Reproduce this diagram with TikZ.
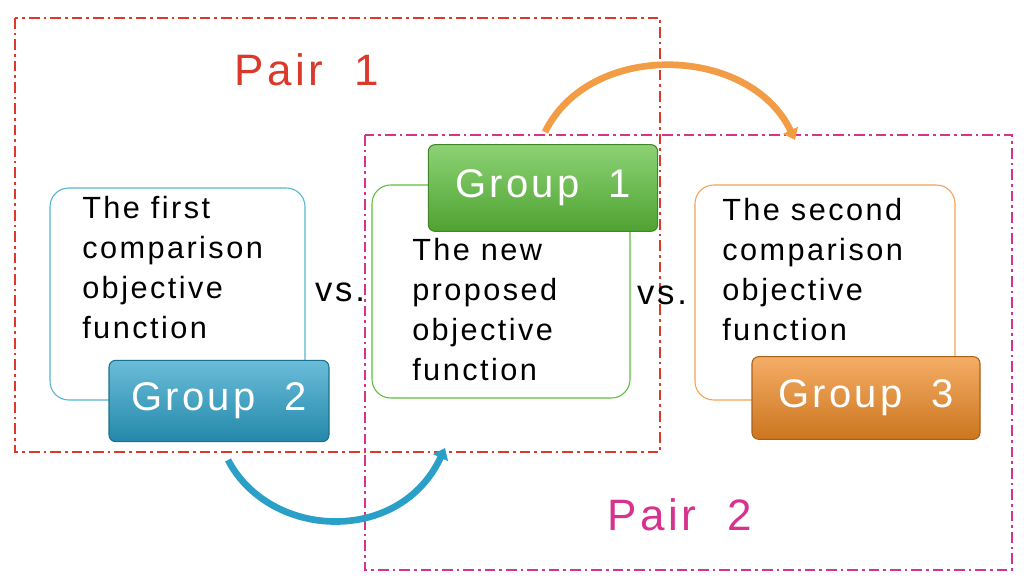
\documentclass[tikz,border=0pt]{standalone}
\usepackage{fontspec}
\setmainfont{Liberation Sans}[LetterSpace=8]
\usetikzlibrary{arrows.meta}
\definecolor{pr}{HTML}{D93A2B}
\definecolor{pm}{HTML}{D6338F}
\definecolor{gb}{HTML}{2AA0C8}
\definecolor{gg}{HTML}{5CBF3A}
\definecolor{go}{HTML}{F08A24}
\begin{document}
\begin{tikzpicture}[x=0.75pt,y=-0.75pt,
 pair/.style={line width=2.2pt,dash pattern=on 8pt off 3pt on 2pt off 3pt},
 obox/.style={rounded corners=14pt,line width=0.8pt},
 txt/.style={anchor=north west,align=left,font=\fontsize{23}{30}\selectfont,inner sep=0pt},
 grp/.style={rounded corners=5pt,draw=#1!70!black,line width=0.8pt,text=white,font=\fontsize{30}{32}\selectfont,inner sep=0pt},
 vs/.style={font=\fontsize{26}{28}\selectfont}]
\useasboundingbox (0,0) rectangle (1024,585);
\draw[pair,pr] (15,18) rectangle (660,452);
\node[pr,font=\fontsize{33}{36}\selectfont] (p1) at (307,70) {Pair\ \ 1};
\draw[obox,gb!80] (50,188) rectangle (305,400);
\node[txt] (t1) at (82,196) {The first\\comparison\\objective\\function};
\draw[obox,gg] (372,185) rectangle (630,398);
\node[txt] (t2) at (412,238) {The new\\proposed\\objective\\function};
\draw[obox,go!80] (695,185) rectangle (955,400);
\node[txt] (t3) at (722,198) {The second\\comparison\\objective\\function};
\draw[pair,pm] (365,135) rectangle (1012,570);
\node[pm,font=\fontsize{33}{36}\selectfont] (p2) at (680,515) {Pair\ \ 2};
\node[grp=gb,top color=gb!70!white,bottom color=gb!85!black,minimum width=165pt,minimum height=61pt] (g2) at (219,401) {Group\ \ 2};
\node[grp=gg,top color=gg!70!white,bottom color=gg!85!black,minimum width=172pt,minimum height=65pt] (g1) at (543,188) {Group\ \ 1};
\node[grp=go,top color=go!70!white,bottom color=go!85!black,minimum width=171pt,minimum height=62pt] (g3) at (866,398) {Group\ \ 3};
\node[vs] (v1) at (340,292) {vs.};
\node[vs] (v2) at (662,295) {vs.};
\coordinate (a1) at (545,132); \coordinate (a2) at (795,140);
\draw[go!85,line width=5pt,-{Triangle[length=8pt,width=12pt]}] (a1) .. controls (590,40) and (750,45) .. (a2);
\coordinate (b1) at (228,460); \coordinate (b2) at (445,448);
\draw[gb,line width=5pt,-{Triangle[length=8pt,width=12pt]}] (b1) .. controls (270,540) and (400,545) .. (b2);
\end{tikzpicture}
\end{document}
